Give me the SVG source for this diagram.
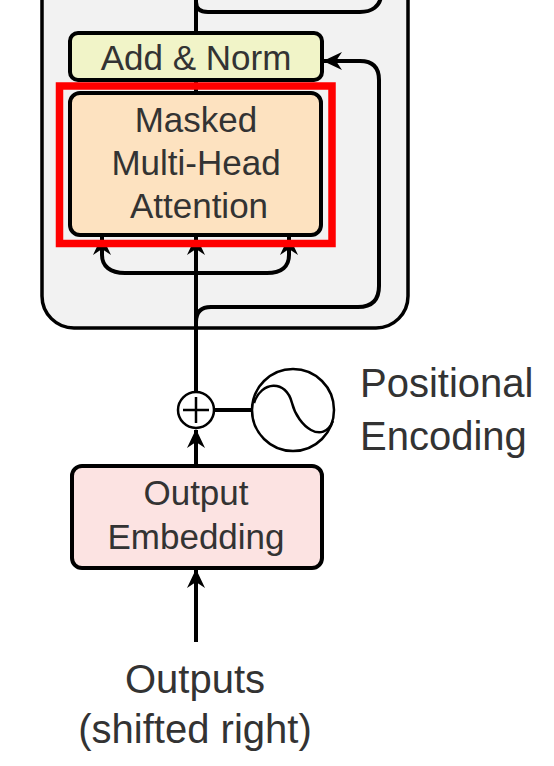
<svg xmlns="http://www.w3.org/2000/svg" width="554" height="766" viewBox="0 0 554 766">
<style>
.box{stroke:#000;stroke-width:4}
.lbl{font-family:"Liberation Sans",Arial,sans-serif;font-size:35px;fill:#333;text-anchor:middle}
.big{font-size:40px}
.start{text-anchor:start}
.wire{fill:none;stroke:#000;stroke-width:4}
.thin{fill:none;stroke:#000;stroke-width:2.5}
</style>
<defs>
<marker id="ah" markerUnits="userSpaceOnUse" markerWidth="22" markerHeight="22" viewBox="-20 -11 22 22" refX="0" refY="0" orient="auto">
<path d="M1,0 L-18,-9 L-12,0 L-18,9 Z" fill="#000"/>
</marker>
</defs>
<rect width="554" height="766" fill="#fff"/>
<g id="decoder-block">
<rect x="42" y="-60" width="366" height="388" rx="32" fill="#f2f2f2" stroke="#000" stroke-width="3.5"/>
</g>
<g id="connectors">
<path class="wire" d="M196 33 L196 -2"/>
<path class="wire" d="M196 2 Q196 12 208 12 L360 12 C372 12 380 6 381 -4"/>
<path class="wire" d="M196 80 L196 93"/>
<path class="wire" d="M196 392 L196 237" marker-end="url(#ah)"/>
<path class="wire" d="M196 273 L125 273 C110 273 102 266 102 255 L102 237" marker-end="url(#ah)"/>
<path class="wire" d="M196 273 L267 273 C282 273 289 266 289 255 L289 237" marker-end="url(#ah)"/>
<path class="wire" d="M196 322 Q196 307 211 307 L358 307 Q379 307 379 286 L379 80 Q379 61 360 61 L324 61" marker-end="url(#ah)"/>
<path class="wire" d="M196 466 L196 430" marker-end="url(#ah)"/>
<path class="wire" d="M196 642 L196 570" marker-end="url(#ah)"/>
<path class="wire" d="M214 410 L252 410"/>
</g>
<g id="add-norm">
<rect class="box" x="70" y="33" width="252" height="47" rx="8" fill="#f1f4c8"/>
<text class="lbl" x="196" y="70">Add &amp; Norm</text>
</g>
<g id="masked-mha">
<rect class="box" x="70" y="93" width="251" height="142" rx="10" fill="#fde2c0"/>
<text class="lbl" x="196" y="132">Masked</text>
<text class="lbl" x="196" y="175">Multi-Head</text>
<text class="lbl" x="199" y="218">Attention</text>
</g>
<g id="highlight">
<rect x="59.5" y="86" width="272.5" height="157.5" fill="none" stroke="#ff0000" stroke-width="7.5"/>
</g>
<g id="plus">
<circle class="thin" cx="196" cy="410" r="18" fill="#fff"/>
<path class="thin" d="M183 410 H209 M196 397 V423"/>
</g>
<g id="positional-encoding">
<circle class="thin" cx="293" cy="410" r="41" fill="#fff"/>
<path class="thin" d="M254 403 C261 381 286 379 292 403 S323 445 333 421"/>
<text class="lbl big start" x="360" y="397">Positional</text>
<text class="lbl big start" x="360" y="450">Encoding</text>
</g>
<g id="output-embedding">
<rect class="box" x="72" y="466" width="250" height="102" rx="10" fill="#fce3e2"/>
<text class="lbl" x="196" y="505">Output</text>
<text class="lbl" x="196" y="549">Embedding</text>
</g>
<g id="outputs">
<text class="lbl big" x="195" y="693">Outputs</text>
<text class="lbl big" x="195" y="743">(shifted right)</text>
</g>
</svg>
